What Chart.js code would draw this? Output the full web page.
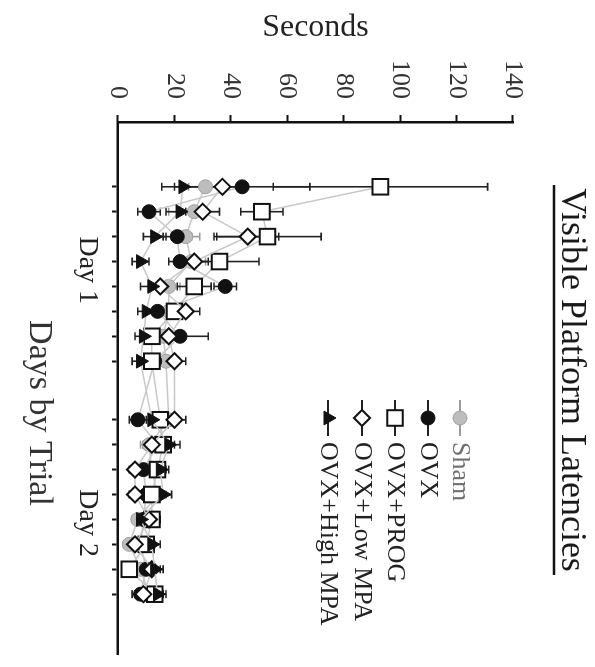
<!DOCTYPE html>
<html>
<head>
<meta charset="utf-8">
<script src="https://cdn.jsdelivr.net/npm/chart.js@4.4.1/dist/chart.umd.min.js"></script>
<style>
  html, body { margin: 0; padding: 0; background: #fff; overflow: hidden; width: 595px; height: 667px; }
  /* the figure is laid out in landscape and turned a quarter turn clockwise */
  #wrap { position: absolute; left: 0; top: 0; width: 667px; height: 595px;
          transform-origin: 0 0; transform: translate(595px, 0) rotate(90deg); }
</style>
</head>
<body>
<div id="wrap"><canvas id="c" width="667" height="595"></canvas></div>
<script>
// Trial positions along the day axis (8 trials per day, a gap between days)
const trialPos = [1, 2, 3, 4, 5, 6, 7, 8, 10.35, 11.35, 12.35, 13.35, 14.35, 15.35, 16.35, 17.35];
const dayLabels = ['Day 1', 'Day 2'];
const dayLabelPos = [4.35, 14.5];
const secondTicks = [0, 20, 40, 60, 80, 100, 120, 140];

const seriesNames = ['Sham', 'OVX', 'OVX+PROG', 'OVX+Low MPA', 'OVX+High MPA'];

// mean latency (s) per trial
const sham    = [31, 27, 24, 26, 18, 18, 16, 17, 18, 11, 12, 14, 7, 4, 8, 11];
const ovx     = [44, 11, 21, 22, 38, 14, 22, 13, 7, 14, 9, 10, 9, 8, 10, 8];
const prog    = [93, 51, 53, 36, 27, 20, 12, 12, 15, 16, 14, 12, 12, 10, 4, 13];
const lowMpa  = [37, 30, 46, 27, 15, 24, 18, 20, 20, 12, 6, 6, 11, 6, 12, 9];
const highMpa = [23, 22, 13, 8, 12, 10, 9, 8, 12, 18, 15, 16, 8, 12, 13, 14];

// standard error per trial
const shamErr    = [6, 9, 5, 5, 4, 4, 4, 4, 6, 3, 3, 3, 2, 2, 3, 3];
const ovxErr     = [24, 4, 5, 4, 4, 4, 10, 4, 3, 4, 3, 3, 3, 3, 3, 3];
const progErr    = [38, 7.5, 19, 14, 6, 4, 3, 3, 4, 4, 3, 3, 3, 3, 2, 3];
const lowMpaErr  = [6, 6, 11, 5, 4, 5, 4, 4, 4, 3, 2, 2, 3, 2, 3, 3];
const highMpaErr = [7.5, 5, 4, 3, 4, 3, 3, 3, 3, 4, 3, 3, 2, 3, 3, 3];

const SERIF = "'Liberation Serif', 'Times New Roman', serif";

const styles = [
  { pointStyle: 'circle',   radius: 7,  fill: '#bdbdbd', stroke: '#a0a0a0', bw: 1, err: '#9a9a9a' },
  { pointStyle: 'circle',   radius: 7,  fill: '#111111', stroke: '#111111', bw: 1, err: '#222222' },
  { pointStyle: 'rect',     radius: 11, fill: '#ffffff', stroke: '#111111', bw: 2, err: '#222222' },
  { pointStyle: 'rectRot',  radius: 8,  fill: '#ffffff', stroke: '#111111', bw: 2, err: '#222222' },
  { pointStyle: 'triangle', radius: 8,  fill: '#111111', stroke: '#111111', bw: 1, err: '#222222' }
];
const means = [sham, ovx, prog, lowMpa, highMpa];
const errs = [shamErr, ovxErr, progErr, lowMpaErr, highMpaErr];

const datasets = seriesNames.map((name, k) => ({
  label: name,
  data: means[k].map((v, i) => ({ x: trialPos[i], y: v })),
  borderColor: '#c8c8c8',
  borderWidth: 1.5,
  tension: 0,
  fill: false,
  pointStyle: styles[k].pointStyle,
  pointRadius: styles[k].radius,
  pointBackgroundColor: styles[k].fill,
  pointBorderColor: styles[k].stroke,
  pointBorderWidth: styles[k].bw,
  order: 5 - k
}));

// vertical error bars with caps, drawn under the markers
const errorBars = {
  id: 'errorBars',
  beforeDatasetsDraw(chart) {
    const { ctx, scales: { x, y } } = chart;
    ctx.save();
    ctx.lineWidth = 1.6;
    means.forEach((arr, k) => {
      ctx.strokeStyle = styles[k].err;
      arr.forEach((v, i) => {
        const px = x.getPixelForValue(trialPos[i]);
        const top = y.getPixelForValue(v + errs[k][i]);
        const bot = y.getPixelForValue(Math.max(0, v - errs[k][i]));
        ctx.beginPath();
        ctx.moveTo(px, top); ctx.lineTo(px, bot);
        ctx.moveTo(px - 4, top); ctx.lineTo(px + 4, top);
        ctx.moveTo(px - 4, bot); ctx.lineTo(px + 4, bot);
        ctx.stroke();
      });
    });
    ctx.restore();
  }
};

// underlined title, axis caption and the marker key
const decorations = {
  id: 'decorations',
  afterDraw(chart) {
    const ctx = chart.ctx;
    ctx.save();
    // title
    ctx.fillStyle = '#1a1a1a';
    ctx.font = '36px ' + SERIF;
    ctx.textAlign = 'center';
    ctx.textBaseline = 'alphabetic';
    ctx.fillText('Visible Platform Latencies', 380, 33);
    ctx.strokeStyle = '#111';
    ctx.lineWidth = 2.5;
    ctx.beginPath(); ctx.moveTo(185, 41); ctx.lineTo(575, 41); ctx.stroke();

    // day-axis caption
    ctx.font = '34px ' + SERIF;
    ctx.fillStyle = '#333';
    ctx.textBaseline = 'middle';
    ctx.fillText('Days by Trial', 413, 556);

    // key
    const rows = [135, 167, 200, 233, 267];
    ctx.font = '26px ' + SERIF;
    ctx.textAlign = 'left';
    seriesNames.forEach((name, k) => {
      const yy = rows[k];
      ctx.strokeStyle = styles[k].err;
      ctx.lineWidth = 2;
      ctx.beginPath(); ctx.moveTo(400, yy); ctx.lineTo(436, yy); ctx.stroke();
      ctx.fillStyle = styles[k].fill;
      ctx.strokeStyle = styles[k].stroke;
      ctx.lineWidth = styles[k].bw;
      Chart.helpers.drawPoint(ctx, { pointStyle: styles[k].pointStyle, radius: styles[k].radius, rotation: 0, borderWidth: styles[k].bw }, 418, yy);
      ctx.fillStyle = k === 0 ? '#707070' : '#222';
      ctx.fillText(name, 442, yy);
    });
    ctx.restore();
  }
};

new Chart(document.getElementById('c'), {
  type: 'line',
  data: { datasets },
  plugins: [errorBars, decorations],
  options: {
    responsive: false,
    animation: false,
    devicePixelRatio: 1,
    layout: { padding: { top: 82, right: 7, left: 0, bottom: 0 } },
    plugins: { legend: { display: false }, title: { display: false }, tooltip: { enabled: false } },
    scales: {
      x: {
        type: 'linear',
        min: -1.6,
        max: 19.75,
        afterFit(s) { s.height = 118; },
        afterBuildTicks(s) {
          s.ticks = trialPos.concat(dayLabelPos).sort((a, b) => a - b).map(v => ({ value: v }));
        },
        ticks: {
          autoSkip: false,
          maxRotation: 0,
          minRotation: 0,
          padding: 8,
          color: '#222',
          font: { family: SERIF, size: 28 },
          callback(value) {
            const j = dayLabelPos.indexOf(value);
            return j >= 0 ? dayLabels[j] : '';
          }
        },
        grid: {
          drawOnChartArea: false,
          drawTicks: true,
          tickLength: 6,
          tickWidth: 2,
          tickColor(c) { return c.tick && dayLabelPos.includes(c.tick.value) ? 'rgba(0,0,0,0)' : '#111'; }
        },
        border: { display: true, color: '#111', width: 2.5 }
      },
      y: {
        type: 'linear',
        min: 0,
        max: 140,
        afterFit(s) { s.width = 122; },
        afterBuildTicks(s) { s.ticks = secondTicks.map(v => ({ value: v })); },
        ticks: {
          padding: 16,
          color: '#333',
          font: { family: SERIF, size: 26 }
        },
        grid: {
          drawOnChartArea: false,
          drawTicks: true,
          tickLength: 7,
          tickWidth: 2,
          tickColor: '#111'
        },
        border: { display: true, color: '#111', width: 2.5 },
        title: {
          display: true,
          text: 'Seconds',
          color: '#222',
          font: { family: SERIF, size: 32 },
          padding: { top: 8, bottom: 0 }
        }
      }
    }
  }
});
</script>
</body>
</html>
